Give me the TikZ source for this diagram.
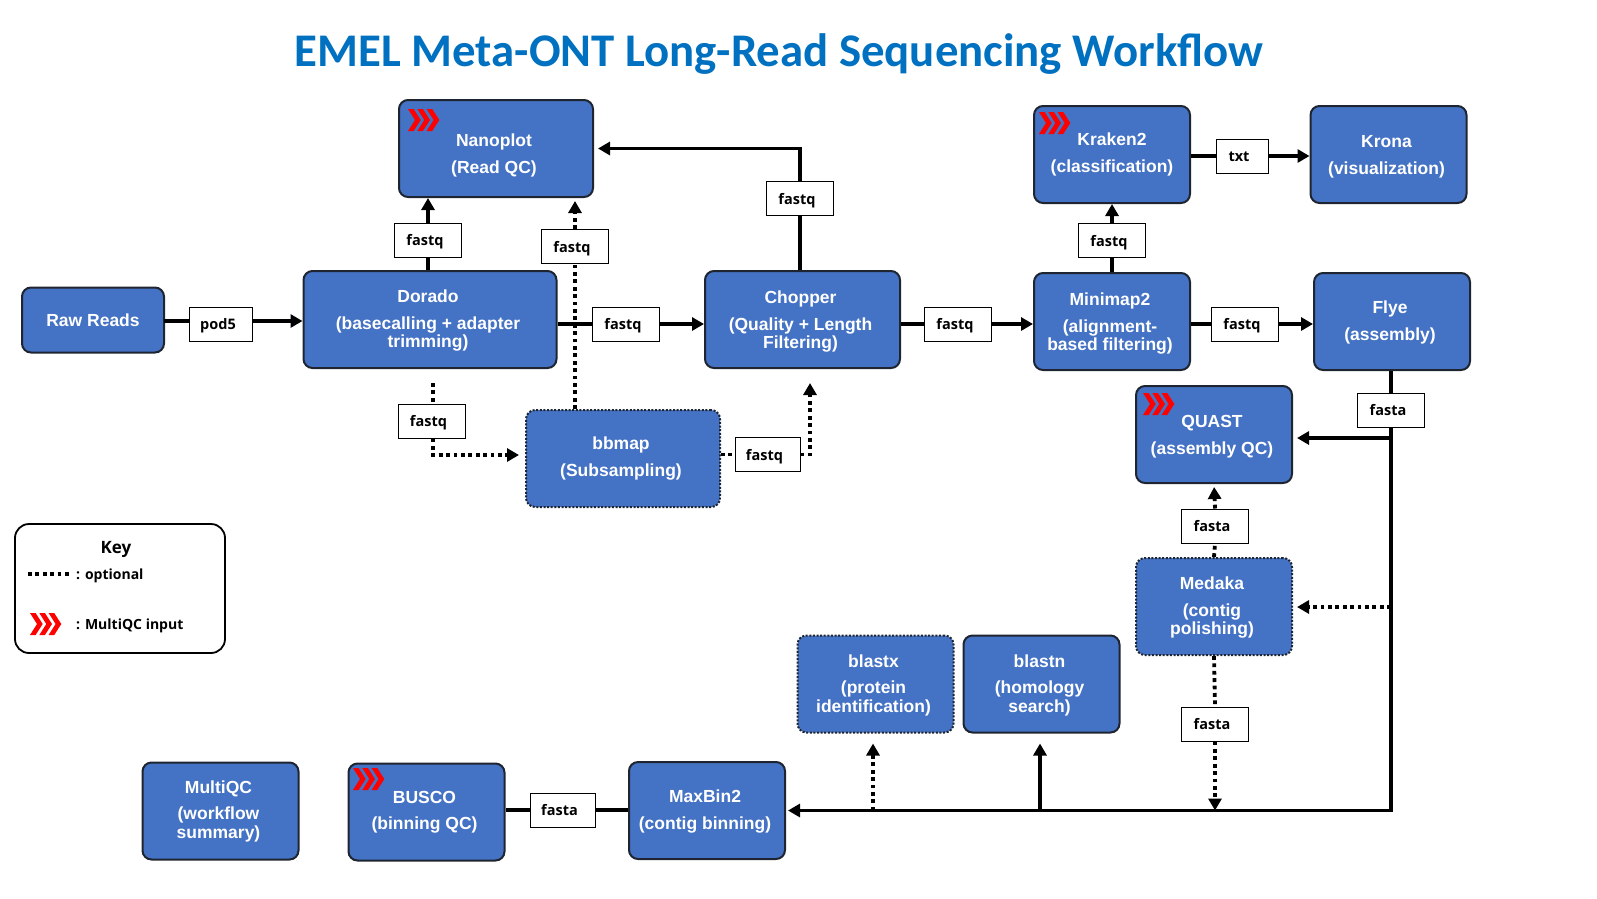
\documentclass[tikz,border=0pt]{standalone}
\usepackage{fontspec}
\setmainfont{Liberation Sans}
\newfontfamily\labelfont{Open Sans}
\newfontfamily\titlefont{Carlito}
\usetikzlibrary{arrows.meta}

\definecolor{boxblue}{HTML}{4472C4}
\definecolor{boxedge}{HTML}{1E2530}
\definecolor{titleblue}{HTML}{0070C0}

\tikzset{
  tool/.style={draw=boxedge, fill=boxblue, line width=2pt, rounded corners=9pt, inner sep=0pt,
    minimum width=156pt, minimum height=97pt, align=center, text=white,
    font=\fontsize{17.5}{18.5}\selectfont\bfseries\kern-4pt},
  optional tool/.style={tool, dash pattern=on 2pt off 1.6pt},
  filetype/.style={draw=black, fill=white, line width=1pt, inner sep=0pt,
    minimum width=67pt, minimum height=34pt, text height=11.4pt, text depth=0pt,
    font=\labelfont\fontsize{14.5}{16}\selectfont\bfseries\kern-6pt},
  flow/.style={line width=3.8pt, -{Triangle[length=12pt,width=13pt]}},
  link/.style={line width=3.8pt},
  optional flow/.style={flow, dash pattern=on 3.8pt off 3.6pt},
  optional link/.style={link, dash pattern=on 3.8pt off 3.6pt},
  keytext/.style={anchor=west, inner sep=0pt, font=\labelfont\fontsize{14}{16}\selectfont\bfseries}
}

% three red chevrons, top left corner given
\newcommand{\qcmark}[1]{
  \begin{scope}[shift={(#1)}]
    \foreach \s in {0,9.3,18.6} {
      \fill[red] (\s,0) -- (\s+5.6,0) -- (\s+12.7,11) -- (\s+5.6,22) -- (\s,22) -- (\s+7,11) -- cycle;
    }
  \end{scope}
}
% pushes the text of a tool down by #1
\newcommand{\toolnudge}[1]{\rule{0pt}{\dimexpr 13pt+2\dimexpr #1pt\relax\relax}}

\begin{document}
\begin{tikzpicture}[x=1pt, y=-1pt]
  \useasboundingbox (0,0) rectangle (1597,898);

  % Title
  \node[text=titleblue, font=\titlefont\fontsize{46.8}{52}\selectfont\bfseries] (Title) at (779,54) {EMEL Meta-ONT Long-Read Sequencing Workflow};

  % Tools
  \node[tool, minimum width=142pt, minimum height=65pt, font=\fontsize{17.5}{18.5}\selectfont\bfseries] (Raw) at (93,320) {Raw Reads};
  \node[tool, minimum width=194pt] (Nanoplot) at (496,148.5) {\toolnudge{7}Nanoplot\\[8pt](Read QC)};
  \node[tool, minimum width=253pt] (Dorado) at (430,319.5) {\toolnudge{1}Dorado\\[8pt](basecalling + adapter\\trimming)};
  \node[tool, minimum width=195pt] (Chopper) at (802.5,319.5) {\toolnudge{2}Chopper\\[8pt](Quality + Length\\Filtering)};
  \node[tool] (Minimap) at (1112,321.5) {\toolnudge{2}Minimap2\\[8pt](alignment-\\based filtering)};
  \node[tool] (Flye) at (1392,321.5) {\toolnudge{1}Flye\\[8pt](assembly)};
  \node[tool, font=\fontsize{17.5}{18.5}\selectfont\bfseries] (Kraken) at (1112,154.5) {Kraken2\\[8pt](classification)};
  \node[tool] (Krona) at (1388.5,154.5) {\toolnudge{2}Krona\\[8pt](visualization)};
  \node[optional tool, minimum width=194pt] (bbmap) at (623,458.5) {bbmap\\[8pt](Subsampling)};
  \node[tool] (QUAST) at (1214,434.5) {\toolnudge{2}QUAST\\[8pt](assembly QC)};
  \node[optional tool] (Medaka) at (1214,606.5) {\toolnudge{1}Medaka\\[8pt](contig\\polishing)};
  \node[optional tool] (blastx) at (875.5,684) {\toolnudge{1}blastx\\[8pt](protein\\identification)};
  \node[tool] (blastn) at (1041.5,684) {\toolnudge{1}blastn\\[8pt](homology\\search)};
  \node[tool] (MaxBin) at (707,810.5) {\toolnudge{1}MaxBin2\\[8pt](contig binning)};
  \node[tool] (BUSCO) at (426.5,812) {BUSCO\\[8pt](binning QC)};
  \node[tool] (MultiQC) at (220.5,811) {MultiQC\\[8pt](workflow\\summary)};

  % File type labels
  \node[filetype, minimum width=63pt] (pod) at (221,324) {pod5};
  \node[filetype] (fqNano) at (428,240) {fastq};
  \node[filetype] (fqSub) at (575,246.5) {fastq};
  \node[filetype] (fqTop) at (800,198.5) {fastq};
  \node[filetype] (fqDorado) at (626,324) {fastq};
  \node[filetype] (fqChopper) at (958,324) {fastq};
  \node[filetype] (fqKraken) at (1112,240.5) {fastq};
  \node[filetype] (fqFlye) at (1245,324) {fastq};
  \node[filetype] (fqDown) at (431.5,421) {fastq};
  \node[filetype, minimum width=65pt] (fqBack) at (767.5,454.5) {fastq};
  \node[filetype, minimum width=52pt] (txt) at (1242,156) {txt};
  \node[filetype] (faFlye) at (1391,410) {fasta};
  \node[filetype] (faQuast) at (1215,526) {fasta};
  \node[filetype] (faMedaka) at (1215,724) {fasta};
  \node[filetype, minimum width=65pt] (faBusco) at (562.5,810) {fasta};

  % Free ends
  \coordinate (RawLine) at (164,321);
  \coordinate (DoradoOut) at (433,383);
  \coordinate (DoradoIn) at (433,455);
  \coordinate (BackUp) at (810,454.5);
  \coordinate (QuastTap) at (1391,438);
  \coordinate (MedakaTap) at (1391,607);
  \coordinate (BlastxTap) at (873,810.5);
  \coordinate (BlastnTap) at (1040,810.5);

  % Main path
  \draw[link] (RawLine) -- (pod.west |- RawLine);
  \draw[flow] (pod.east |- RawLine) -- (Dorado.west |- RawLine);
  \draw[link] (fqDorado.west -| Dorado.east) -- (fqDorado.west);
  \draw[flow] (fqDorado.east) -- (fqDorado.east -| Chopper.west);
  \draw[link] (fqChopper.west -| Chopper.east) -- (fqChopper.west);
  \draw[flow] (fqChopper.east) -- (fqChopper.east -| Minimap.west);
  \draw[link] (fqFlye.west -| Minimap.east) -- (fqFlye.west);
  \draw[flow] (fqFlye.east) -- (fqFlye.east -| Flye.west);

  % Read QC and classification
  \draw[link] (fqNano.south |- Dorado.north) -- (fqNano.south);
  \draw[flow] (fqNano.north) -- (fqNano.north |- Nanoplot.south);
  \draw[link] (Chopper.north -| fqTop) -- (fqTop.south);
  \draw[flow, shorten >=4pt] (fqTop.north) |- (Nanoplot.east);
  \draw[link] (Minimap.north) -- (fqKraken.south);
  \draw[flow] (fqKraken.north) -- (Kraken.south);
  \draw[link] (txt.west -| Kraken.east) -- (txt.west);
  \draw[flow] (txt.east) -- (txt.east -| Krona.west);

  % Optional subsampling
  \draw[optional link] (DoradoOut) -- (fqDown.north -| DoradoOut);
  \draw[optional flow, shorten >=6pt] (fqDown.south -| DoradoIn) -- (DoradoIn) -- (DoradoIn -| bbmap.west);
  \draw[optional link] (bbmap.north -| fqSub) -- (fqSub.south);
  \draw[optional flow, shorten >=3pt] (fqSub.north) -- (fqSub.north |- Nanoplot.south);
  \draw[optional link] (bbmap.east |- fqBack) -- (fqBack.west);
  \draw[optional flow, shorten >=14pt] (fqBack.east) -- (BackUp) -- (BackUp |- Chopper.south);

  % Assembly
  \draw[link] (Flye.south -| faFlye) -- (faFlye.north);
  \draw[flow, shorten >=2pt] (faFlye.south) |- (MaxBin.east);
  \draw[flow, shorten >=4pt] (QuastTap) -- (QuastTap -| QUAST.east);
  \draw[optional flow, shorten >=4pt] (MedakaTap) -- (MedakaTap -| Medaka.east);
  \draw[optional link] (Medaka.north) -- (faQuast.south);
  \draw[optional flow, shorten >=3pt] (faQuast.north) -- (QUAST.south);
  \draw[optional link] (Medaka.south) -- (faMedaka.north);
  \draw[optional flow] (faMedaka.south) -- (faMedaka.south |- BlastnTap);

  % Homology search and binning
  \draw[flow, shorten >=10pt] (BlastnTap) -- (BlastnTap |- blastn.south);
  \draw[optional flow, shorten >=10pt] (BlastxTap) -- (BlastxTap |- blastx.south);
  \draw[link] (MaxBin.west |- faBusco) -- (faBusco.east);
  \draw[link] (faBusco.west) -- (BUSCO.east |- faBusco);

  % Key
  \node[draw=black, fill=white, line width=1.8pt, rounded corners=14pt, minimum width=210pt, minimum height=129pt] (Key) at (120,588.5) {};
  \node[font=\labelfont\fontsize{17}{20}\selectfont\bfseries] (KeyTitle) at (116,549) {Key};
  \coordinate (DotStart) at (28,574);
  \coordinate (DotEnd) at (69,574);
  \draw[optional link] (DotStart) -- (DotEnd);
  \node[keytext] (KeyOptional) at (76,576) {: optional};
  \node[keytext] (KeyQC) at (76,626) {: MultiQC input};

  % MultiQC inputs
  \qcmark{408,109}
  \qcmark{1039,112}
  \qcmark{1143,393}
  \qcmark{353,768}
  \qcmark{30,613}

\end{tikzpicture}
\end{document}
